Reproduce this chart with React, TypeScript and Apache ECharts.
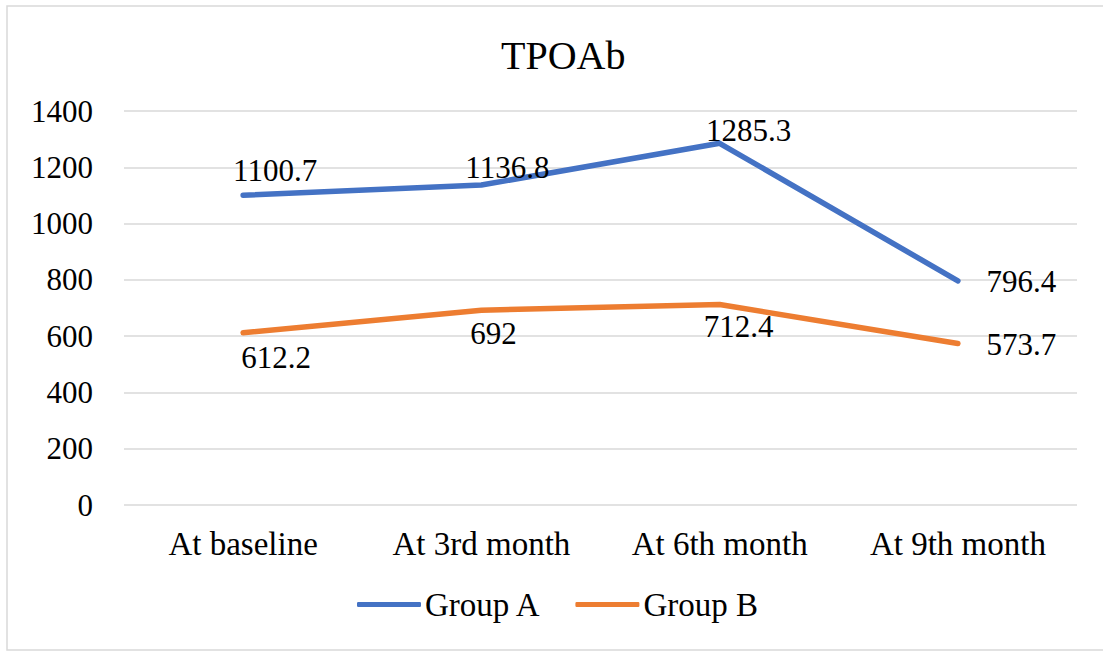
import React, { useEffect, useRef } from "react";
import * as echarts from "echarts";

const categories = ["At baseline", "At 3rd month", "At 6th month", "At 9th month"];
const groupA = [1100.7, 1136.8, 1285.3, 796.4];
const groupB = [612.2, 692, 712.4, 573.7];
const yTicks = { min: 0, max: 1400, interval: 200 };

const FONT = "Liberation Serif";

const labelA = [
  { position: "inside", offset: [32, -25] },
  { position: "inside", offset: [26, -18] },
  { position: "inside", offset: [29, -13] },
  { position: "right", distance: 28, offset: [0, 1] },
];
const labelB = [
  { position: "inside", offset: [33, 25] },
  { position: "inside", offset: [12, 23] },
  { position: "inside", offset: [19, 22] },
  { position: "right", distance: 28, offset: [0, 1] },
];

export default function App() {
  const ref = useRef<HTMLDivElement>(null);
  useEffect(() => {
    if (!ref.current) return;
    const chart = echarts.init(ref.current, null, { renderer: "svg" });
    const mk = (vals: number[], labels: any[]) =>
      vals.map((v, i) => ({
        value: v,
        label: {
          show: true,
          ...labels[i],
          color: "#000",
          fontFamily: FONT,
          fontSize: 31,
        },
      }));
    chart.setOption({
      animation: false,
      backgroundColor: "#fff",
      title: {
        text: "TPOAb",
        left: 496,
        top: 30,
        textStyle: { fontFamily: FONT, fontSize: 40, fontWeight: "normal", color: "#000" },
      },
      graphic: [
        {
          type: "rect",
          shape: { x: 7, y: 6, width: 1100, height: 644 },
          style: { fill: "none", stroke: "#d9d9d9", lineWidth: 1.5 },
          silent: true,
        },
      ],
      legend: {
        bottom: 26,
        left: 352,
        itemWidth: 64,
        itemHeight: 5,
        itemGap: 34,
        icon: "roundRect",
        textStyle: { fontFamily: FONT, fontSize: 33, color: "#000", padding: [0, 0, 0, -1] },
        data: ["Group A", "Group B"],
      },
      grid: { left: 124, right: 26, top: 111, bottom: 147 },
      xAxis: {
        type: "category",
        data: categories,
        boundaryGap: true,
        axisLine: { show: false },
        axisTick: { show: false },
        axisLabel: { fontFamily: FONT, fontSize: 33, color: "#000", margin: 22 },
      },
      yAxis: {
        type: "value",
        min: yTicks.min,
        max: yTicks.max,
        interval: yTicks.interval,
        axisLine: { show: false },
        axisTick: { show: false },
        axisLabel: {
          fontFamily: FONT,
          fontSize: 31,
          color: "#000",
          margin: 31,
          formatter: (v: number) => String(v),
        },
        splitLine: { lineStyle: { color: "#d9d9d9", width: 1.5 } },
      },
      series: [
        {
          name: "Group A",
          type: "line",
          data: mk(groupA, labelA),
          symbol: "circle",
          symbolSize: 1,
          lineStyle: { color: "#4472C4", width: 5.5, cap: "round", join: "round" },
          itemStyle: { color: "#4472C4" },
        },
        {
          name: "Group B",
          type: "line",
          data: mk(groupB, labelB),
          symbol: "circle",
          symbolSize: 1,
          lineStyle: { color: "#ED7D31", width: 5.5, cap: "round", join: "round" },
          itemStyle: { color: "#ED7D31" },
        },
      ],
    });
    return () => chart.dispose();
  }, []);
  return (
    <div
      ref={ref}
      style={{ position: "absolute", left: 0, top: 0, width: 1103, height: 652 }}
    />
  );
}
